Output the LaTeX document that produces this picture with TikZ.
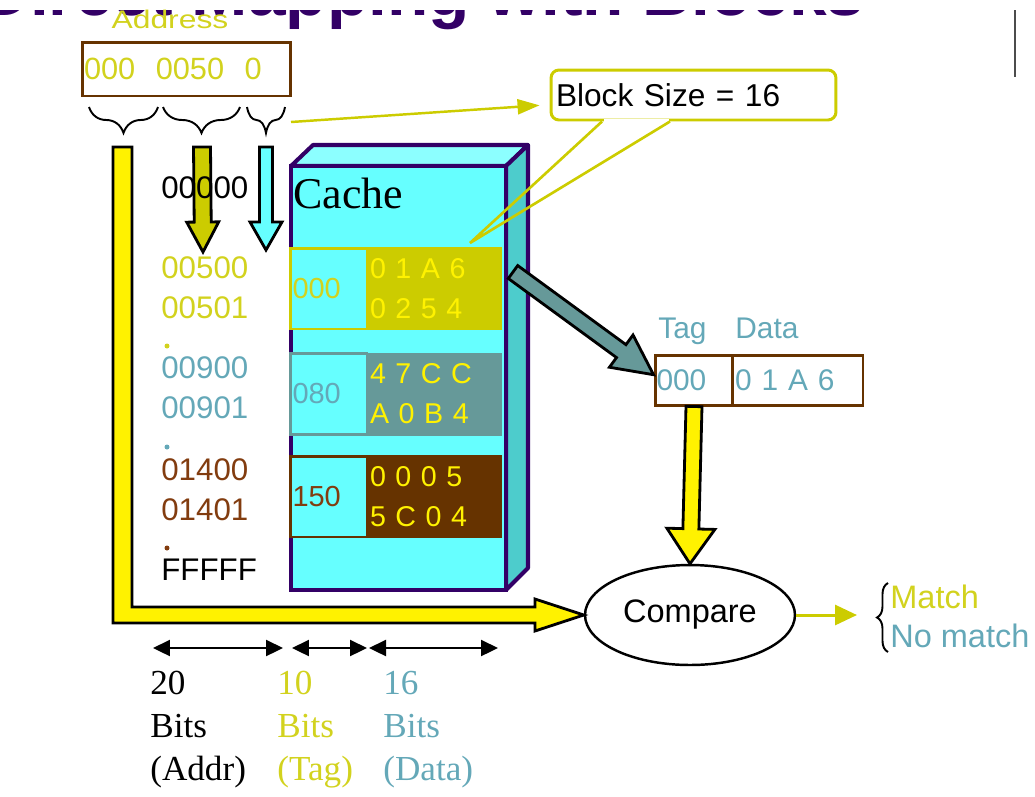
\documentclass[tikz,border=0pt]{standalone}
\usepackage{fontspec}
\setmainfont{Liberation Sans}
\newfontfamily\timesfont{Liberation Serif}
\usepackage{tikz}
\usetikzlibrary{positioning, calc, shapes.geometric, decorations.pathreplacing, arrows.meta}

\definecolor{titlepurple}{RGB}{51,0,102}
\definecolor{olivey}{RGB}{204,204,0}
\definecolor{yeltext}{RGB}{210,210,30}
\definecolor{cachecyan}{RGB}{102,255,255}
\definecolor{cachetop}{RGB}{140,255,255}
\definecolor{cacheside}{RGB}{77,204,204}
\definecolor{cacheedge}{RGB}{51,0,102}
\definecolor{tealblk}{RGB}{102,153,153}
\definecolor{tealtext}{RGB}{100,168,184}
\definecolor{brownblk}{RGB}{102,51,0}
\definecolor{browntext}{RGB}{130,60,15}

% fill, from, to, shaft half width, head half width, head length
\newcommand{\fatarrow}[6]{%
  \coordinate (fah) at ($(#3)!#6!(#2)$);
  \filldraw[fatline, fill=#1]
    ($(#2)!#4!90:(#3)$) -- ($(fah)!#4!90:(#3)$) -- ($(fah)!#5!90:(#3)$) -- (#3)
    -- ($(fah)!#5!-90:(#3)$) -- ($(fah)!#4!-90:(#3)$) -- ($(#2)!#4!-90:(#3)$) -- cycle;}

\begin{document}
\begin{tikzpicture}[x=0.02cm, y=-0.02cm,
    fatline/.style={draw=black, line width=1.6pt, line join=miter},
    addrtxt/.style={font=\fontsize{17.8}{22.7}\selectfont, anchor=west, inner sep=0pt, align=left},
    tagcell/.style={rectangle, fill=cachecyan, line width=1.7pt, minimum width=1.54cm, minimum height=1.62cm, text width=1.44cm, inner xsep=0.05cm, align=left, font=\fontsize{16.5}{20}\selectfont},
    datacell/.style={rectangle, minimum width=2.7cm, minimum height=1.66cm, text width=2.58cm, inner xsep=0.06cm, align=left, text=yellow, font=\fontsize{16.3}{22.7}\selectfont},
    boxcell/.style={rectangle, draw=brownblk, line width=1.7pt, minimum height=1cm, inner xsep=0.03cm, align=left, text=tealtext, font=\fontsize{17}{20}\selectfont},
    bitlbl/.style={anchor=north west, inner sep=0pt, align=left, font=\timesfont\fontsize{20}{24.4}\selectfont},
    bitarrow/.style={<->, >={Triangle[length=0.34cm, width=0.32cm]}, line width=1.3pt},
    bracket/.style={decorate, decoration={brace, amplitude=#1}, line width=1.1pt}]
\useasboundingbox (0,0) rectangle (1035,796);
\clip (0,0) rectangle (1035,796);

\begin{scope}
\clip (0,10) rectangle (1035,40);
\node[anchor=base west, inner sep=0pt, text=titlepurple, font=\fontsize{38.5}{40}\selectfont\bfseries] (title) at (-19,15) {Direct Mapping with Blocks};
\end{scope}
\draw[line width=1.4pt, black!70] (1015,10) -- (1015,77);

\node[anchor=base, inner sep=0pt, text=yeltext, font=\fontsize{14.5}{16}\selectfont] (addrlbl) at (170,28) {\scalebox{1.25}[1]{Address}};
\node[rectangle, draw=brownblk, line width=1.7pt, minimum width=4.18cm, minimum height=1.08cm, text width=4.1cm, inner xsep=0.04cm, align=left, text=yeltext, font=\fontsize{17.5}{20}\selectfont] (addr) at (186.5,69) {000\ \ 0050\ \ 0};

\draw[bracket=0.52cm] (158,107) -- (89,107);
\draw[bracket=0.52cm] (240,107) -- (163,107);
\draw[bracket=0.52cm] (285,107) -- (247,107);
\coordinate (b1) at (124,147);
\coordinate (b2) at (202,147);
\coordinate (b3) at (266,147);
\coordinate (b3r) at (291,122);

\node[addrtxt, text=yeltext] (a5) at (161,288) {00500\\00501};
\node[addrtxt, text=tealtext] (a9) at (161,388) {00900\\00901};
\node[addrtxt, text=browntext] (a14) at (161,490) {01400\\01401};
\node[addrtxt] (af) at (161,570) {FFFFF};
\fill[yeltext] (167,346) circle (2.5);
\fill[tealtext] (167,447) circle (2.5);
\fill[browntext] (167,548) circle (2.5);

\filldraw[fill=cachetop, draw=cacheedge, line width=2.3pt, line join=round] (291,166) -- (313,145) -- (528,145) -- (506,166) -- cycle;
\filldraw[fill=cacheside, draw=cacheedge, line width=2.3pt, line join=round] (506,166) -- (528,145) -- (528,568) -- (506,590) -- cycle;
\filldraw[fill=cachecyan, draw=cacheedge, line width=2.3pt] (291,166) rectangle (506,590);
\node[anchor=base west, inner sep=0pt, font=\timesfont\fontsize{25}{30}\selectfont] (cachelbl) at (293,208) {Cache};

\foreach \ry/\fc/\tc/\tg/\da/\db [count=\i] in {288.5/olivey/yeltext/000/0 1 A 6/0 2 5 4, 394/tealblk/tealtext/080/4 7 C C/A 0 B 4, 496.5/brownblk/browntext/150/0 0 0 5/5 C 0 4} {
  \node[datacell, fill=\fc] (d\i) at (434.5,\ry) {\da\\\db};
  \node[tagcell, draw=\fc, text=\tc] (t\i) at (328.5,\ry) {\tg};
}

\node[rectangle, draw=olivey, line width=1.7pt, rounded corners=0.16cm, minimum width=5.7cm, minimum height=1cm, text width=5.5cm, inner xsep=0.1cm, align=left, font=\fontsize{18}{20}\selectfont] (bsize) at (693.5,95) {Block Size = 16};
\coordinate (bstip) at (470,243);
\fill[white] ($(bsize.south)+(-90,-2.5)$) rectangle ($(bsize.south)+(-25,2.5)$);
\draw[olivey, line width=1.5pt, line join=miter] ($(bsize.south)+(-91.5,0)$) -- (bstip) -- ($(bsize.south)+(-23.5,0)$);
\draw[olivey, line width=1.4pt, -{Triangle[length=0.44cm, width=0.3cm]}, shorten >=0.2cm] (b3r) -- (bsize);

\node[boxcell, minimum width=1.56cm, text width=1.5cm] (tagc) at (694,380) {000};
\node[boxcell, minimum width=2.62cm, text width=2.5cm, inner xsep=0.06cm] (datac) at (797.5,380) {0 1 A 6};
\node[anchor=base west, inner sep=0pt, text=tealtext, font=\fontsize{17}{20}\selectfont] (taglbl) at (658,338) {Tag};
\node[anchor=base west, inner sep=0pt, text=tealtext, font=\fontsize{17}{20}\selectfont] (datalbl) at (735,338) {Data};

\node[ellipse, draw, line width=1.4pt, minimum width=4.2cm, minimum height=2cm, font=\fontsize{18.5}{20}\selectfont] (cmp) at (690,615) {Compare};

\coordinate (r1in) at (203,252);
\coordinate (r1cy) at (266,250);
\coordinate (tstart) at (513,272);
\fatarrow{olivey}{b2}{r1in}{0.17cm}{0.32cm}{0.6cm}
\fatarrow{cachecyan}{b3}{r1cy}{0.13cm}{0.32cm}{0.56cm}
\fatarrow{tealblk}{tstart}{$(tagc.north west)!0.4!(tagc.south west)$}{0.16cm}{0.4cm}{0.8cm}
\fatarrow{yellow}{tagc.south}{cmp.north}{0.16cm}{0.48cm}{0.7cm}
\filldraw[fatline, fill=yellow] ($(b1)+(-11,0)$) -- ($(b1)+(8,0)$) -- (132,607) -- (535,607) -- (535,599) -- (cmp.west) -- (535,631) -- (535,623) -- (113,623) -- cycle;
\node[addrtxt] (a0) at (161,188) {00000};

\coordinate (mout) at (857,615);
\draw[olivey, line width=1.7pt, -{Triangle[length=0.44cm, width=0.4cm]}] (cmp) -- (mout);
\draw[bracket=0.22cm] (888,652) -- (888,583);
\node[anchor=west, inner sep=0pt, align=left, font=\fontsize{18.5}{22}\selectfont] (result) at (890,616.5) {{\color{yeltext}Match}\\{\color{tealtext}No match}};

\coordinate (w0) at (153,648);
\coordinate (w1) at (283,648);
\coordinate (w2) at (292,648);
\coordinate (w3) at (367,648);
\coordinate (w4) at (369,648);
\coordinate (w5) at (498,648);
\draw[bitarrow] (w0) -- (w1);
\draw[bitarrow] (w2) -- (w3);
\draw[bitarrow] (w4) -- (w5);
\node[bitlbl] (bitsaddr) at (150,671) {20\\Bits\\(Addr)};
\node[bitlbl, text=yeltext] (bitstag) at (277,671) {10\\Bits\\(Tag)};
\node[bitlbl, text=tealtext] (bitsdata) at (383,671) {16\\Bits\\(Data)};
\end{tikzpicture}
\end{document}
